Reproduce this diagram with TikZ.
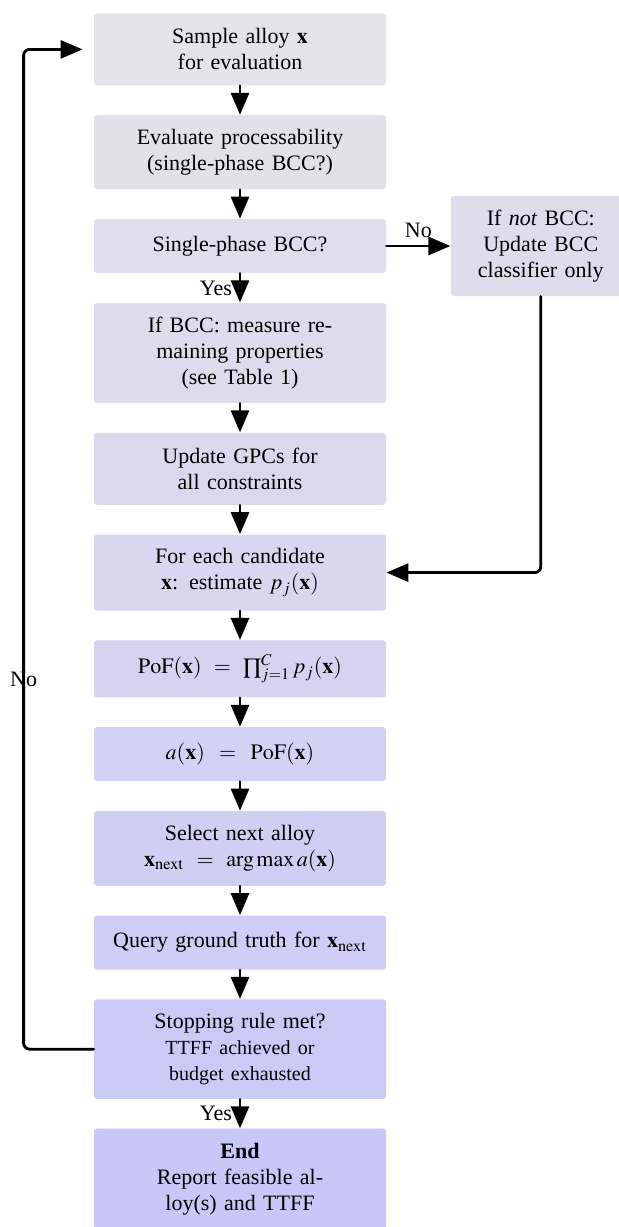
\documentclass[tikz,border=0pt]{standalone}
\usepackage{mathptmx}
\usepackage[no-math]{fontspec}
\setmainfont{Liberation Serif}
\usetikzlibrary{positioning,arrows.meta}
\definecolor{topc}{RGB}{227,227,233}
\definecolor{botc}{RGB}{200,200,248}
\tikzset{
  box/.style={fill=botc!#1!topc, rounded corners=1.5pt, align=center, text width=130pt,
    inner xsep=8pt, inner ysep=7pt, minimum height=27pt},
  twoline/.style={minimum height=36pt},
  sidebox/.style={box=#1, text width=76pt, inner xsep=7pt},
  flow/.style={->, line width=1.4pt}
}
\begin{document}
\begin{tikzpicture}[x=1pt, y=1pt, font=\fontsize{11}{13}\selectfont, line join=round, line cap=round,
  >={Triangle[length=11pt,width=9pt]}, node distance=14.5pt]
 \useasboundingbox (0,0) rectangle (309.5,-613.5);
 % main column
 \node[box=0, twoline, anchor=north] (samp) at (120,-6.5) {Sample alloy $\mathbf{x}$\\for evaluation};
 \node[box=9, twoline, below=of samp] (evalp) {Evaluate processability\\(single-phase BCC?)};
 \node[box=18, below=of evalp] (chk) {Single-phase BCC?};
 \node[box=27, below=of chk] (meas) {If BCC: measure re-\\maining properties\\(see Table 1)};
 \node[box=36, twoline, below=of meas] (upd) {Update GPCs for\\all constraints};
 \node[box=45, twoline, below=of upd] (est) {For each candidate\\$\mathbf{x}$: estimate $p_j(\mathbf{x})$};
 \node[box=55, below=of est] (pof) {$\mathrm{PoF}(\mathbf{x}) \;=\; \prod_{j=1}^{C} p_j(\mathbf{x})$};
 \node[box=64, below=of pof] (acq) {$a(\mathbf{x}) \;=\; \mathrm{PoF}(\mathbf{x})$};
 \node[box=73, twoline, below=of acq] (sel) {Select next alloy\\$\mathbf{x}_{\mathrm{next}} \;=\; \arg\max a(\mathbf{x})$};
 \node[box=82, below=of sel] (qry) {Query ground truth for $\mathbf{x}_{\mathrm{next}}$};
 \node[box=91, below=of qry] (stop) {Stopping rule met?\\{\fontsize{10}{13}\selectfont TTFF achieved or}\\{\fontsize{10}{13}\selectfont budget exhausted}};
 \node[box=100, below=of stop] (fin) {\textbf{End}\\Report feasible al-\\loy(s) and TTFF};
 % side branch
 \node[sidebox=22, right=32pt of chk] (notbcc) {If \emph{not} BCC:\\Update BCC\\classifier only};
 % connectors
 \draw[flow] (samp) -- (evalp);
 \draw[flow] (evalp) -- (chk);
 \draw[flow] (chk) -- node[left]{Yes} (meas);
 \draw[flow] (chk) -- node[above]{No} (notbcc);
 \draw[flow] (meas) -- (upd);
 \draw[flow] (upd) -- (est);
 \draw[flow, rounded corners=3pt] (notbcc) |- (est);
 \draw[flow] (est) -- (pof);
 \draw[flow] (pof) -- (acq);
 \draw[flow] (acq) -- (sel);
 \draw[flow] (sel) -- (qry);
 \draw[flow] (qry) -- (stop);
 \draw[flow] (stop) -- node[left]{Yes} (fin);
 \draw[flow, rounded corners=3pt, shorten >=5.5pt] (stop.west) -- ++(-35,0) |- node[pos=0.185]{No} (samp.west);
\end{tikzpicture}
\end{document}
